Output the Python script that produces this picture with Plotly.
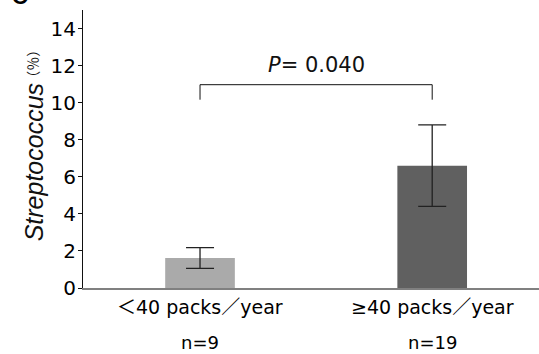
import plotly.graph_objects as go

categories = ["＜40 packs／year", "≥40 packs／year"]
group_sizes = ["n=9", "n=19"]
means = [1.62, 6.6]
errors = [0.56, 2.2]
bar_colors = ["#aaaaaa", "#606060"]
p_text = "<i>P</i>= 0.040"
y_ticks = [0, 2, 4, 6, 8, 10, 12, 14]
y_title = "<i>Streptococcus</i>"
y_unit = "（％）"

xpos = list(range(len(categories)))
LBL_FONT = "DejaVu Sans, Noto Sans CJK JP"

fig = go.Figure()
fig.add_trace(go.Bar(
    x=xpos, y=means, width=0.30,
    marker=dict(color=bar_colors, line=dict(width=0)),
    error_y=dict(type="data", array=errors, visible=True,
                 color="#222222", thickness=1.3, width=14),
))

# significance bracket
yb_low, yb_high = 10.16, 10.97
fig.add_shape(type="path", xref="x", yref="y",
              path=f"M {xpos[0]},{yb_low} L {xpos[0]},{yb_high} L {xpos[1]},{yb_high} L {xpos[1]},{yb_low}",
              line=dict(color="#111111", width=1))
fig.add_annotation(x=(xpos[0] + xpos[1]) / 2, y=12.05, xref="x", yref="y",
                   text=p_text, showarrow=False, xanchor="center", yanchor="middle",
                   font=dict(family="DejaVu Sans", size=21, color="#111111"))

# category labels and group sizes
for xi, cat, n in zip(xpos, categories, group_sizes):
    fig.add_annotation(x=xi, y=0, xref="x", yref="paper", yanchor="middle", xanchor="center",
                       yshift=-19, text=cat, showarrow=False,
                       font=dict(family=LBL_FONT, size=19, color="#000000"))
    fig.add_annotation(x=xi, y=0, xref="x", yref="paper", yanchor="middle", xanchor="center",
                       yshift=-54, text=n, showarrow=False,
                       font=dict(family=LBL_FONT, size=18, color="#000000"))

# y-axis title as rotated annotations
fig.add_annotation(x=-0.108, y=0.451, xref="paper", yref="paper",
                   xanchor="center", yanchor="middle", textangle=-90,
                   text=y_title, showarrow=False,
                   font=dict(family="Liberation Sans, Arial", size=25, color="#111111"))
fig.add_annotation(x=-0.112, y=0.806, xref="paper", yref="paper",
                   xanchor="center", yanchor="middle", textangle=-90,
                   text=y_unit, showarrow=False,
                   font=dict(family="Noto Sans CJK JP", size=14, color="#111111"))

# panel letter (partially cut at top)
fig.add_annotation(x=-0.138, y=1.05, xref="paper", yref="paper",
                   xanchor="center", yanchor="middle",
                   text="<b>C</b>", showarrow=False,
                   font=dict(family="Liberation Sans, Arial", size=22, color="#000000"))

fig.update_xaxes(range=[-0.504, 1.46], showticklabels=False, ticks="",
                 showline=True, linecolor="#808080", linewidth=1.5,
                 showgrid=False, zeroline=False)
fig.update_yaxes(range=[0, 15], tickvals=y_ticks, ticks="outside", ticklen=4,
                 tickcolor="#111111", tickwidth=1, ticklabelstandoff=-2,
                 showline=True, linecolor="#111111", linewidth=1,
                 showgrid=False, zeroline=False,
                 tickfont=dict(family="DejaVu Sans", size=20, color="#000000"))

fig.update_layout(width=539, height=354, margin=dict(l=83, r=0, t=10, b=66),
                  plot_bgcolor="white", paper_bgcolor="white", showlegend=False)

fig.write_html("out.html")
